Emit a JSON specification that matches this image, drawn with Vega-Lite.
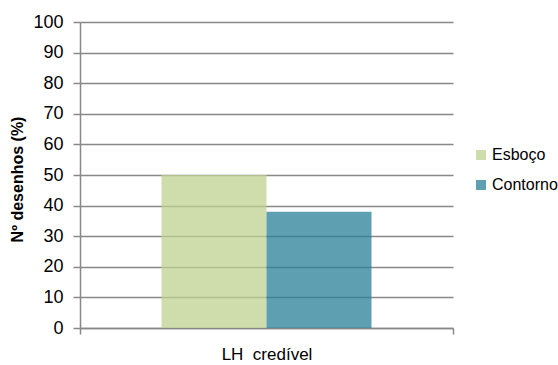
{
  "$schema": "https://vega.github.io/schema/vega-lite/v6.json",
  "width": 373,
  "height": 306,
  "autosize": {"type": "none"},
  "padding": {"left": 80, "top": 22, "right": 105, "bottom": 37},
  "background": "white",
  "config": {
    "view": {"stroke": null},
    "font": "Liberation Sans"
  },
  "data": {
    "values": [
      {"categoria": "LH  credível", "serie": "Esboço", "valor": 50},
      {"categoria": "LH  credível", "serie": "Contorno", "valor": 38}
    ]
  },
  "mark": {"type": "bar", "opacity": 0.75},
  "encoding": {
    "x": {
      "field": "categoria",
      "type": "nominal",
      "scale": {"paddingInner": 0, "paddingOuter": 0},
      "axis": {
        "title": null,
        "labelExpr": "replace(datum.label, '  ', '\u00a0 ')",
        "labelAngle": 0,
        "labelFontSize": 17,
        "labelColor": "#000",
        "labelPadding": 12,
        "labelBaseline": "top",
        "tickBand": "extent",
        "tickSize": 6,
        "tickColor": "#888",
        "tickWidth": 1.5,
        "domainColor": "#888",
        "domainWidth": 1.5
      }
    },
    "xOffset": {
      "field": "serie",
      "type": "nominal",
      "sort": ["Esboço", "Contorno"],
      "scale": {"paddingInner": 0, "paddingOuter": 0.776}
    },
    "y": {
      "field": "valor",
      "type": "quantitative",
      "scale": {"domain": [0, 100]},
      "axis": {
        "title": "Nº desenhos (%)",
        "titleFontSize": 16,
        "titleFontWeight": "bold",
        "titleColor": "#000",
        "titleX": -63,
        "titleY": 157,
        "titleAngle": -90,
        "titleAlign": "center",
        "titleBaseline": "middle",
        "values": [0, 10, 20, 30, 40, 50, 60, 70, 80, 90, 100],
        "labelFontSize": 18,
        "labelColor": "#000",
        "labelPadding": 10,
        "tickSize": 7,
        "tickColor": "#888",
        "tickWidth": 1.5,
        "domainColor": "#888",
        "domainWidth": 1.5,
        "grid": true,
        "gridColor": "#888",
        "gridWidth": 1.5
      }
    },
    "color": {
      "field": "serie",
      "type": "nominal",
      "sort": ["Esboço", "Contorno"],
      "scale": {"domain": ["Esboço", "Contorno"], "range": ["#BFD290", "#288098"]},
      "legend": {
        "title": null,
        "orient": "none",
        "legendX": 393,
        "legendY": 125,
        "symbolType": "square",
        "symbolSize": 100,
        "symbolStrokeWidth": 0,
        "labelFontSize": 16,
        "labelColor": "#000",
        "labelOffset": 3,
        "rowPadding": 14
      }
    }
  }
}
